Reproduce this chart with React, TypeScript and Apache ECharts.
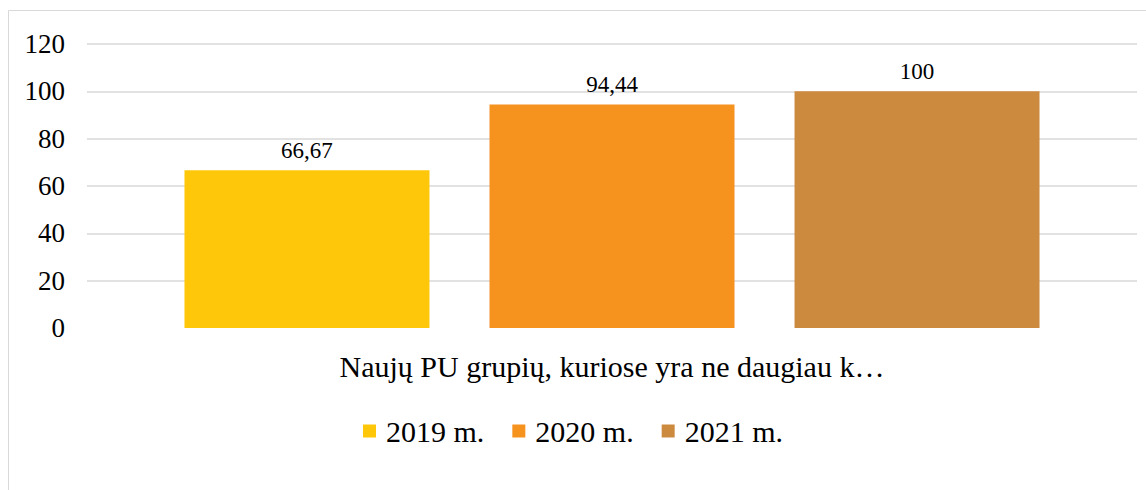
import React, { useEffect, useRef } from "react";
import * as echarts from "echarts";

const categories = ["Naujų PU grupių, kuriose yra ne daugiau k…"];
const seriesNames = ["2019 m.", "2020 m.", "2021 m."];
const values2019 = [66.67];
const values2020 = [94.44];
const values2021 = [100];
const yTicks = [0, 20, 40, 60, 80, 100, 120];
const colors = ["#FFC709", "#F6921E", "#CC8A3F"];

export default function App() {
  const ref = useRef<HTMLDivElement>(null);
  useEffect(() => {
    if (!ref.current) return;
    const chart = echarts.init(ref.current, null, { renderer: "svg" });
    const font = "Liberation Serif";
    const data = [values2019, values2020, values2021];
    chart.setOption({
      animation: false,
      backgroundColor: "#fff",
      textStyle: { fontFamily: font },
      graphic: [
        {
          type: "rect",
          shape: { x: 8.5, y: 10.5, width: 1300, height: 600 },
          style: { fill: "none", stroke: "#d9d9d9", lineWidth: 1 },
          silent: true,
        },
      ],
      grid: { left: 87, right: 9, top: 44, bottom: 162, containLabel: false },
      legend: {
        data: seriesNames,
        top: 411,
        left: "center",
        icon: "rect",
        itemWidth: 13,
        itemHeight: 13,
        itemGap: 28,
        textStyle: { fontFamily: font, fontSize: 30, color: "#000", padding: [0, 0, 0, 5] },
      },
      xAxis: {
        type: "category",
        data: categories,
        axisLine: { show: false },
        axisTick: { show: false },
        axisLabel: { margin: 23, fontFamily: font, fontSize: 30, color: "#000" },
      },
      yAxis: {
        type: "value",
        min: yTicks[0],
        max: yTicks[yTicks.length - 1],
        interval: 20,
        axisLine: { show: false },
        axisTick: { show: false },
        axisLabel: { margin: 22, fontFamily: font, fontSize: 27, color: "#000" },
        splitLine: {
          lineStyle: {
            color: ["rgba(0,0,0,0)", "#d9d9d9", "#d9d9d9", "#d9d9d9", "#d9d9d9", "#d9d9d9", "#d9d9d9"],
            width: 1.5,
          },
        },
      },
      series: seriesNames.map((name, i) => ({
        name,
        type: "bar",
        data: data[i],
        barWidth: 245,
        barGap: "24.5%",
        itemStyle: { color: colors[i] },
        label: {
          show: true,
          position: "top",
          distance: 8,
          fontFamily: font,
          fontSize: 23,
          color: "#000",
          formatter: (p: any) => String(p.value).replace(".", ","),
        },
      })),
    });
    return () => chart.dispose();
  }, []);
  return (
    <div
      ref={ref}
      style={{ position: "absolute", left: 0, top: 0, width: 1146, height: 490 }}
    />
  );
}
